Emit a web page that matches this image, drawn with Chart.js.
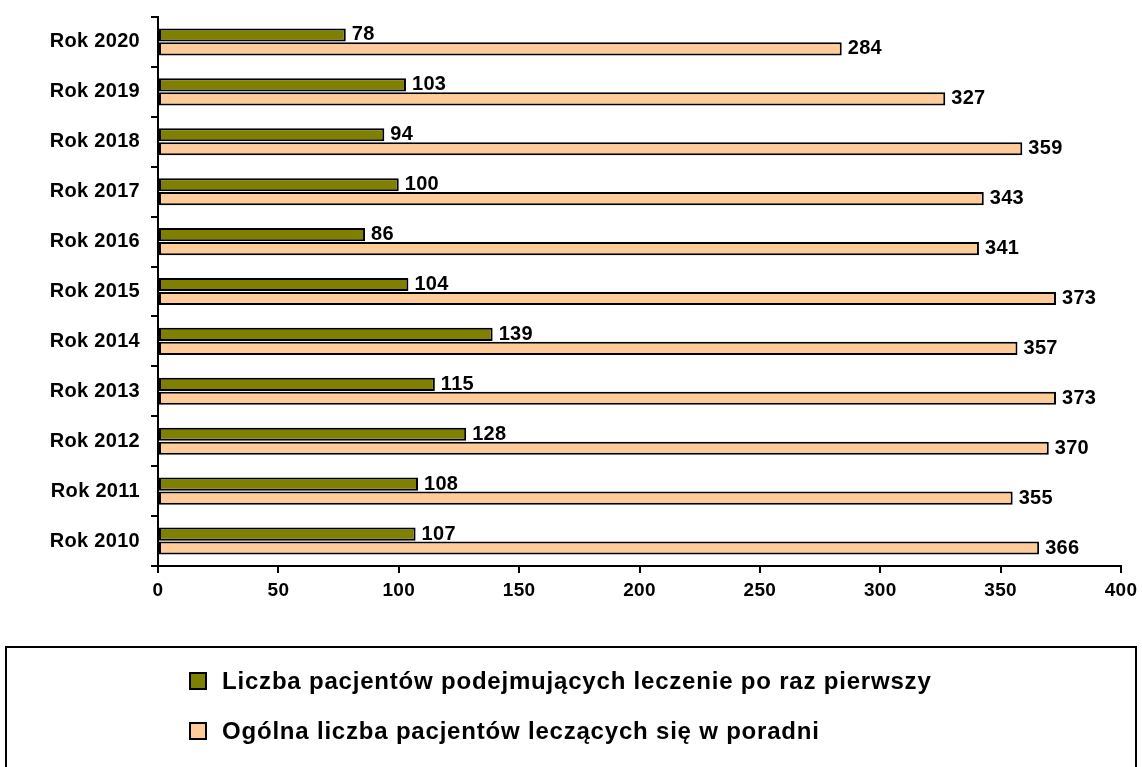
<!DOCTYPE html>
<html>
<head>
<meta charset="utf-8">
<script src="https://cdn.jsdelivr.net/npm/chart.js@4/dist/chart.umd.min.js"></script>
<style>
  body { margin: 0; background: #fff; }
  #wrap { position: relative; width: 1142px; height: 767px; overflow: hidden; }
  #legend {
    position: absolute; left: 5px; top: 646px; width: 1132px; height: 140px;
    border: 2px solid #000; box-sizing: border-box;
    font: bold 24px "Liberation Sans", Arial, sans-serif; color: #000;
    letter-spacing: 0.8px;
  }
  .item { position: absolute; left: 182px; display: flex; align-items: center; }
  .box { width: 14px; height: 14px; border: 2px solid #000; margin-right: 15px; }
</style>
</head>
<body>
<div id="wrap">
  <canvas id="patientsBar"></canvas>
  <div id="legend"></div>
</div>
<script>
// Pacjenci poradni 2010-2020

const years = ['Rok 2020', 'Rok 2019', 'Rok 2018', 'Rok 2017', 'Rok 2016', 'Rok 2015',
               'Rok 2014', 'Rok 2013', 'Rok 2012', 'Rok 2011', 'Rok 2010'];
const firstTime = [78, 103, 94, 100, 86, 104, 139, 115, 128, 108, 107];
const allPatients = [284, 327, 359, 343, 341, 373, 357, 373, 370, 355, 366];
const seriesNames = ['Liczba pacjentów podejmujących leczenie po raz pierwszy',
                     'Ogólna liczba pacjentów leczących się w poradni'];
const xTicks = [0, 50, 100, 150, 200, 250, 300, 350, 400];

const family = '"Liberation Sans", Arial, sans-serif';

// slightly wider letter spacing like the original
const spacing = {
    id: 'spacing',
    beforeDraw(chart) { chart.ctx.letterSpacing = '0.3px'; }
};

// value labels at the end of each bar
const barLabels = {
    id: 'barLabels',
    afterDatasetsDraw(chart) {
        const ctx = chart.ctx;
        ctx.save();
        ctx.letterSpacing = '0.3px';
        ctx.font = 'bold 20px ' + family;
        ctx.fillStyle = '#000';
        ctx.textBaseline = 'middle';
        chart.data.datasets.forEach((ds, i) => {
            chart.getDatasetMeta(i).data.forEach((bar, j) => {
                ctx.fillText(ds.data[j], bar.x + 6, bar.y);
            });
        });
        ctx.restore();
    }
};

const ctx = document.getElementById('patientsBar');
new Chart(ctx.getContext('2d'), {
    type: 'bar',
    data: {
        labels: years,
        datasets: [{
            label: seriesNames[0],
            data: firstTime,
            backgroundColor: '#808000',
            borderColor: '#000',
            borderWidth: 2,
            borderSkipped: false,
            categoryPercentage: 0.56,
            barPercentage: 0.94
        }, {
            label: seriesNames[1],
            data: allPatients,
            backgroundColor: '#FFCC99',
            borderColor: '#000',
            borderWidth: 2,
            borderSkipped: false,
            categoryPercentage: 0.56,
            barPercentage: 0.94
        }]
    },
    options: {
        indexAxis: 'y',
        responsive: true,
        maintainAspectRatio: false,
        animation: false,
        layout: { padding: { top: 17, right: 21, bottom: 161, left: 0 } },
        plugins: {
            legend: { display: false },
            tooltip: { enabled: false }
        },
        scales: {
            x: {
                min: 0,
                max: 400,
                afterBuildTicks: s => { s.ticks = xTicks.map(v => ({ value: v })); },
                afterFit: s => { s.height = 40; s.paddingLeft = 0; s.paddingRight = 0; },
                border: { display: true, color: '#000', width: 2 },
                grid: { drawOnChartArea: false, drawTicks: true, tickLength: 7, color: '#000', lineWidth: 2 },
                ticks: { color: '#000', font: { family: family, size: 19, weight: 'bold' }, padding: 6 }
            },
            y: {
                afterFit: s => { s.width = 158; s.paddingTop = 0; s.paddingBottom = 0; },
                border: { display: true, color: '#000', width: 2 },
                grid: { offset: true, drawOnChartArea: false, drawTicks: true, tickLength: 7, color: '#000', lineWidth: 2 },
                ticks: { color: '#000', font: { family: family, size: 20, weight: 'bold' }, padding: 11 }
            }
        }
    },
    plugins: [spacing, barLabels]
});

// legend box drawn from the series
const colors = ['#808000', '#FFCC99'];
const legend = document.getElementById('legend');
seriesNames.forEach((name, i) => {
    const item = document.createElement('div');
    item.className = 'item';
    item.style.top = (19 + i * 50) + 'px';
    item.innerHTML = '<span class="box" style="background:' + colors[i] + '"></span><span>' + name + '</span>';
    legend.appendChild(item);
});
</script>
</body>
</html>
